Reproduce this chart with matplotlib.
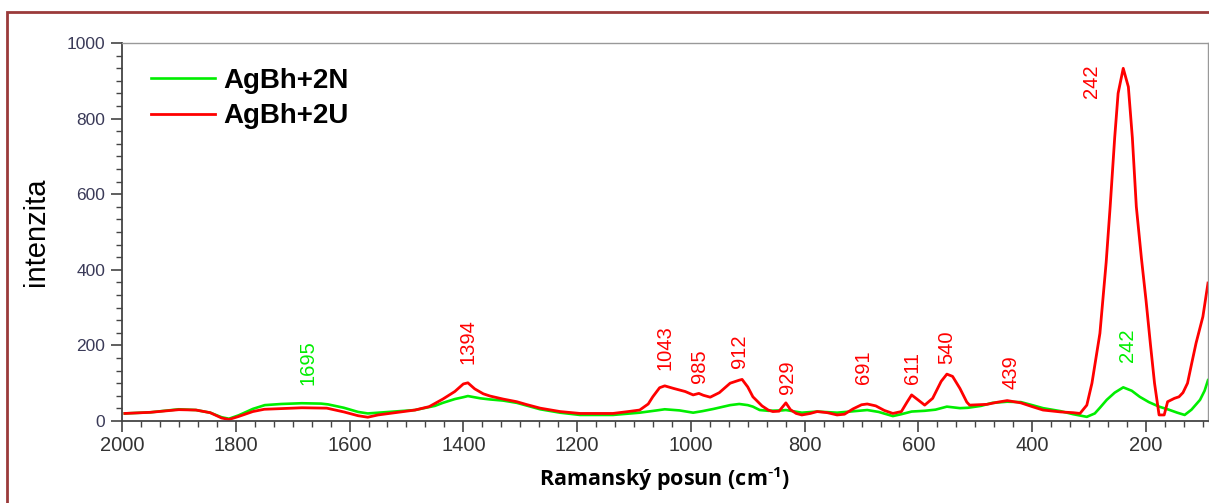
import matplotlib
matplotlib.use("Agg")
import matplotlib.pyplot as plt
from matplotlib.patches import Rectangle
from matplotlib.ticker import MultipleLocator

# Raman spectra (wavenumber cm-1, intensity)
red_x = [1995, 1950, 1900, 1870, 1845, 1825, 1812, 1795, 1770, 1750, 1700, 1684,
         1640, 1610, 1585, 1568, 1550, 1520, 1485, 1460, 1436, 1415, 1400, 1392,
         1380, 1365, 1353, 1330, 1306, 1290, 1265, 1230, 1195, 1137, 1110, 1090,
         1075, 1067, 1055, 1046, 1030, 1010, 996, 986, 978, 966, 950, 931, 915,
         910, 900, 891, 875, 864, 856, 845, 833, 825, 815, 805, 790, 778, 760,
         743, 730, 715, 700, 690, 675, 660, 645, 630, 620, 612, 600, 589, 575,
         560, 550, 540, 527, 515, 510, 480, 460, 444, 420, 400, 381, 350, 328,
         316, 304, 295, 281, 270, 263, 255, 249, 240, 231, 224, 217, 208, 200,
         192, 185, 177, 168, 162, 150, 142, 135, 127, 120, 112, 100, 91]
red_y = [20, 23, 30, 29, 22, 8, 4, 12, 25, 31, 34, 35,
         34, 24, 14, 10, 16, 22, 29, 38, 58, 78, 98, 101,
         85, 72, 66, 58, 51, 44, 34, 25, 20, 20, 25, 29,
         45, 64, 88, 93, 86, 78, 69, 73, 68, 63, 75, 100, 108,
         110, 90, 64, 40, 29, 25, 26, 48, 30, 20, 16, 20, 25, 22,
         16, 18, 32, 43, 45, 40, 28, 20, 25, 50, 69, 55, 42, 60,
         105, 124, 118, 86, 50, 42, 44, 50, 54, 48, 38, 29, 24, 22,
         20, 42, 100, 232, 420, 567, 750, 867, 933, 884, 750, 567, 430, 320,
         200, 100, 16, 16, 51, 60, 64, 75, 100, 150, 206, 276, 365]

green_x = [1995, 1950, 1900, 1870, 1845, 1825, 1812, 1795, 1770, 1749, 1720, 1684,
           1650, 1638, 1610, 1585, 1568, 1540, 1485, 1450, 1436, 1415, 1400, 1392,
           1370, 1353, 1330, 1306, 1265, 1230, 1195, 1137, 1090, 1060, 1046, 1020,
           996, 980, 960, 931, 915, 900, 891, 879, 864, 840, 833, 805, 778, 743,
           720, 690, 670, 645, 630, 612, 589, 570, 550, 527, 513, 490, 470, 444,
           420, 400, 381, 350, 328, 304, 290, 281, 269, 255, 240, 225, 211, 195,
           177, 160, 145, 132, 120, 105, 97, 91]
green_y = [20, 23, 31, 29, 22, 10, 6, 15, 32, 42, 45, 47,
           46, 44, 35, 24, 20, 23, 29, 40, 48, 58, 63, 66,
           60, 57, 54, 48, 31, 22, 16, 16, 22, 28, 31, 28,
           22, 26, 32, 42, 45, 42, 38, 29, 27, 28, 29, 22, 25, 22,
           25, 29, 24, 13, 18, 25, 27, 30, 38, 34, 35, 40, 48, 51,
           50, 42, 34, 26, 18, 11, 20, 35, 56, 75, 89, 80, 64, 50,
           38, 30, 22, 16, 30, 56, 80, 108]

# peak labels: text, x (cm-1), y (bottom of label), colour
peak_text = ["1695", "1394", "1043", "985", "912", "929", "691", "611", "540", "439", "242", "242"]
peak_x = [1673, 1392, 1045, 984, 914, 831, 697, 610, 550, 437, 232, 295]
peak_y = [95, 150, 135, 100, 140, 71, 98, 98, 151, 85, 156, 854]
peak_color = ["#00ee00", "red", "red", "red", "red", "red", "red", "red", "red", "red", "#00ee00", "red"]

plt.rcParams["font.family"] = ["Liberation Sans", "DejaVu Sans"]
plt.rcParams["mathtext.default"] = "regular"

fig = plt.figure(figsize=(12.09, 5.03), dpi=100)
ax = fig.add_axes([122 / 1209, 1 - 421 / 503, (1208 - 122) / 1209, (421 - 43) / 503])

ax.plot(green_x, green_y, color="#00ee00", lw=1.9, label="AgBh+2N")
ax.plot(red_x, red_y, color="red", lw=2.0, label="AgBh+2U")

for t, px, py, c in zip(peak_text, peak_x, peak_y, peak_color):
    ax.text(px, py, t, rotation=90, ha="center", va="bottom", color=c, fontsize=14.5)

ax.set_xlim(2000, 91)
ax.set_ylim(0, 1000)
ax.xaxis.set_major_locator(MultipleLocator(200))
ax.xaxis.set_minor_locator(MultipleLocator(200 / 6))
ax.yaxis.set_major_locator(MultipleLocator(200))
ax.yaxis.set_minor_locator(MultipleLocator(200 / 6))
ax.tick_params(axis="x", which="major", length=8, width=1.2, labelsize=14.5, labelcolor="#333333", color="#444444", pad=3)
ax.tick_params(axis="y", which="major", length=8, width=1.2, labelsize=12.5, labelcolor="#3a3a58", color="#444444", pad=4)
ax.tick_params(which="minor", length=4, width=1, color="#444444")

for side in ["left", "bottom"]:
    ax.spines[side].set_color("#444444")
    ax.spines[side].set_linewidth(1.3)
for side in ["top", "right"]:
    ax.spines[side].set_color("#999999")
    ax.spines[side].set_linewidth(1)

ax.set_xlabel("Ramanský posun (cm$^{\\text{-}1}$)", fontsize=15.5, fontweight="bold",
              family=["Open Sans", "DejaVu Sans"], labelpad=7)
ax.set_ylabel("intenzita", fontsize=21, labelpad=12)

ax.legend(loc="upper left", bbox_to_anchor=(0.027, 0.935), frameon=False,
          prop={"weight": "bold", "size": 20}, handlelength=2.3, handletextpad=0.3,
          labelspacing=0.35, borderpad=0, borderaxespad=0)

# dark red frame around the picture (only top and left edges are visible)
fig.patches.append(Rectangle((7 / 1209, -0.2), 1.5, 1.2 - 12 / 503,
                             transform=fig.transFigure, fill=False,
                             edgecolor="#9a3a3a", lw=2))

fig.savefig("out.png", dpi=100)
